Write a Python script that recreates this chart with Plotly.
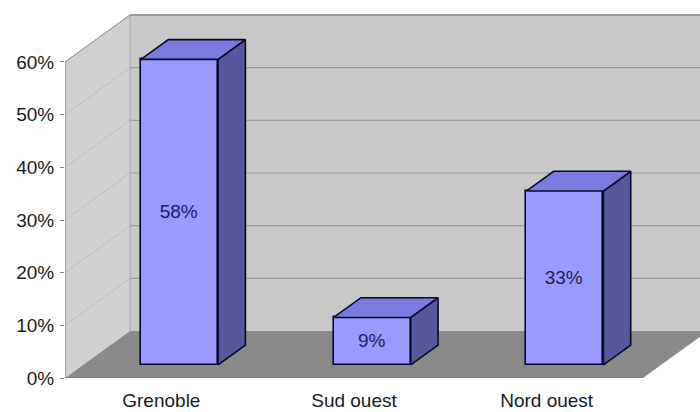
import plotly.graph_objects as go

# Data
categories = ["Grenoble", "Sud ouest", "Nord ouest"]
values = [58, 9, 33]
tick_values = [0, 10, 20, 30, 40, 50, 60]
tick_labels = ["0%", "10%", "20%", "30%", "40%", "50%", "60%"]

# Oblique projection of the 3D box (in axis units)
DEPTH_X = 0.3374   # horizontal shift of the full depth, in category units
DEPTH_Y = 8.92     # vertical shift of the full depth, in percent units
Y_MAX = 60
N = len(categories)
BAR_HALF = 0.2
F0, F1 = 0.28, 0.70  # front and back planes of the bars, as depth fractions

X_RANGE = [0, 3.2958]
Y_RANGE = [0, 71.77]

WALL_BACK = "#c8c8c8"
WALL_SIDE = "#d0d0d0"
FLOOR = "#8a8a8a"
GRID = "#9c9c9c"
FRONT = "#9999ff"
TOP = "#7b7bdf"
SIDE = "#57579c"
EDGE = "#08082a"

shapes = []

def poly(pts, fill, line_color=None, width=0):
    path = "M " + " L ".join(f"{x},{y}" for x, y in pts) + " Z"
    shapes.append(dict(type="path", path=path, xref="x", yref="y",
                       fillcolor=fill, layer="below",
                       line=dict(color=line_color or fill, width=width)))

def seg(x0, y0, x1, y1, color, width=1):
    shapes.append(dict(type="line", x0=x0, y0=y0, x1=x1, y1=y1,
                       xref="x", yref="y", layer="below",
                       line=dict(color=color, width=width)))

# Back wall
poly([(DEPTH_X, DEPTH_Y), (N + DEPTH_X + 0.5, DEPTH_Y),
      (N + DEPTH_X + 0.5, Y_MAX + DEPTH_Y), (DEPTH_X, Y_MAX + DEPTH_Y)], WALL_BACK)
# Side wall
poly([(0, 0), (DEPTH_X, DEPTH_Y), (DEPTH_X, Y_MAX + DEPTH_Y), (0, Y_MAX)], WALL_SIDE)
# Floor
poly([(0, 0), (N, 0), (N + DEPTH_X, DEPTH_Y), (DEPTH_X, DEPTH_Y)], FLOOR)

# Gridlines on the walls
for t in tick_values[1:]:
    seg(DEPTH_X, t + DEPTH_Y, N + DEPTH_X + 0.5, t + DEPTH_Y, GRID, 1.2)
    seg(0, t, DEPTH_X, t + DEPTH_Y, "#b8b8b8", 0.8)

# Box edges
seg(0, Y_MAX, DEPTH_X, Y_MAX + DEPTH_Y, "#8c8c8c", 1)
seg(DEPTH_X, Y_MAX + DEPTH_Y, N + DEPTH_X + 0.5, Y_MAX + DEPTH_Y, "#8c8c8c", 1.5)
seg(DEPTH_X, DEPTH_Y, DEPTH_X, Y_MAX + DEPTH_Y, "#a8a8a8", 1)
seg(0, 0, 0, Y_MAX, "#808080", 1.2)
seg(0, 0, N, 0, "#7a7a7a", 1)

fig = go.Figure()

ax0, ay0 = F0 * DEPTH_X, F0 * DEPTH_Y
ax1, ay1 = F1 * DEPTH_X, F1 * DEPTH_Y
centers = [i + 0.5 for i in range(N)]

# Front faces of the bars
fig.add_trace(go.Bar(
    x=[c + ax0 for c in centers], y=values, base=ay0, width=2 * BAR_HALF,
    marker=dict(color=FRONT, line=dict(color=EDGE, width=1.6)),
    text=[f"{v}%" for v in values], textposition="inside",
    insidetextanchor="middle", textangle=0,
    textfont=dict(family="Liberation Sans, Arial", size=19, color="#1e1e5a"),
    hoverinfo="skip", showlegend=False,
))

# Top and side faces of the bars
for c, v in zip(centers, values):
    xl, xr = c - BAR_HALF, c + BAR_HALF
    top_x = [xl + ax0, xr + ax0, xr + ax1, xl + ax1, xl + ax0]
    top_y = [v + ay0, v + ay0, v + ay1, v + ay1, v + ay0]
    side_x = [xr + ax0, xr + ax1, xr + ax1, xr + ax0, xr + ax0]
    side_y = [ay0, ay1, v + ay1, v + ay0, ay0]
    for xs, ys, col in ((side_x, side_y, SIDE), (top_x, top_y, TOP)):
        fig.add_trace(go.Scatter(
            x=xs, y=ys, mode="lines", fill="toself", fillcolor=col,
            line=dict(color=EDGE, width=1.6), hoverinfo="skip",
            showlegend=False,
        ))

fig.update_layout(
    width=700, height=412,
    margin=dict(l=65, r=0, t=0, b=34),
    paper_bgcolor="white", plot_bgcolor="white",
    shapes=shapes,
    font=dict(family="Liberation Sans, Arial", color="#222222"),
    xaxis=dict(range=X_RANGE, showgrid=False, zeroline=False, showline=False,
               tickmode="array", tickvals=centers, ticktext=categories,
               ticks="", ticklabelstandoff=9, automargin=False,
               tickfont=dict(size=19, color="#1a1a1a"), fixedrange=True),
    yaxis=dict(range=Y_RANGE, showgrid=False, zeroline=False, showline=False,
               tickmode="array", tickvals=tick_values, ticktext=tick_labels,
               ticks="outside", ticklen=4, tickcolor="#808080",
               ticklabelstandoff=2, automargin=False,
               tickfont=dict(size=19, color="#1a1a1a"), fixedrange=True),
    bargap=0,
)

fig.write_html("out.html")
